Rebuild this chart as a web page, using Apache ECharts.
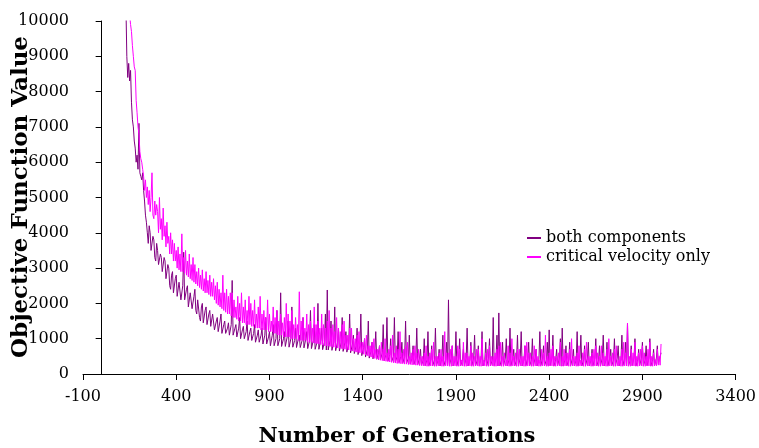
<!DOCTYPE html>
<html>
<head>
<meta charset="utf-8">
<script src="https://cdn.jsdelivr.net/npm/echarts@6/dist/echarts.min.js"></script>
<style>html,body{margin:0;padding:0;background:#fff}#c{width:759px;height:448px}</style>
</head>
<body>
<div id="c"></div>
<script>
// Generations sampled every 5 from 130 to 3000
const genStart = 130;
const genStep = 5;

const seriesNames = ['both components', 'critical velocity only'];

const bothComponents = [
  10500, 9000, 8400, 8800, 8300, 8600, 7700, 7200, 7000, 6600, 6400, 6000, 6200, 5800,
  7100, 5700, 5600, 5500, 5700, 5200, 4900, 4500, 4300, 4000, 3700, 4200, 4000, 3500, 3500, 3900, 3800, 3300, 3200, 3700,
  3500, 3100, 3100, 3400, 3300, 2900, 2900, 3300, 3200, 2700, 2700, 3100, 3000, 2500, 2400, 2800, 2900, 2300, 2300, 2700,
  2800, 2200, 2200, 2600, 2600, 2100, 2100, 2500, 3450, 2100, 2050, 2400, 2500, 1900, 1900, 2300, 2300, 1850, 1850, 2200,
  2400, 1800, 1700, 2100, 2100, 1600, 1500, 1900, 2000, 1450, 1450, 1800, 1900, 1400, 1400, 1700, 1800, 1350, 1300, 1700,
  1700, 1250, 1250, 1500, 1600, 1200, 1200, 1500, 1700, 1150, 1150, 1400, 1500, 1150, 1150, 1300, 1450, 1100, 1100, 1400,
  2650, 1100, 1100, 1300, 1400, 1050, 1050, 1300, 1600, 1000, 1000, 1250, 1350, 1000, 1000, 1200, 1500, 950, 950, 1200,
  1300, 950, 950, 1150, 1400, 900, 900, 1100, 1250, 900, 900, 1100, 1300, 850, 850, 1100, 1600, 850, 850, 1050,
  1200, 800, 800, 1100, 1400, 800, 800, 1000, 1800, 800, 800, 1000, 2300, 780, 780, 1000, 1200, 780, 780, 1050,
  1500, 760, 760, 1000, 1900, 760, 760, 950, 1300, 750, 750, 1000, 1100, 750, 750, 950, 1600, 740, 740, 1000,
  1200, 720, 720, 950, 1800, 720, 720, 950, 1400, 700, 700, 900, 2000, 700, 700, 950, 1300, 690, 690, 900,
  1700, 680, 2380, 680, 680, 950, 1500, 670, 670, 900, 1900, 660, 660, 900, 1300, 650, 650, 900, 1600, 640,
  640, 900, 1200, 620, 620, 850, 1700, 600, 600, 850, 1100, 580, 580, 800, 1300, 550, 550, 800, 1700, 520,
  520, 750, 1000, 480, 480, 700, 1500, 450, 450, 650, 900, 430, 430, 650, 1200, 420, 420, 600, 800, 400,
  400, 600, 1400, 380, 380, 550, 1600, 370, 370, 550, 1000, 350, 350, 500, 1600, 340, 340, 500, 1200, 330,
  330, 500, 900, 320, 320, 500, 1500, 300, 300, 450, 1100, 290, 290, 450, 800, 280, 280, 450, 1300, 270,
  260, 450, 700, 250, 250, 400, 1000, 240, 240, 400, 1200, 240, 240, 400, 800, 230, 230, 400, 1300, 240,
  240, 400, 700, 230, 230, 450, 1100, 240, 240, 400, 900, 240, 2100, 250, 250, 450, 800, 230, 230, 400,
  1200, 240, 240, 450, 1000, 230, 230, 400, 700, 240, 240, 450, 1300, 230, 230, 400, 900, 240, 240, 450,
  1100, 230, 230, 400, 800, 240, 240, 450, 1200, 230, 230, 400, 900, 240, 240, 450, 1000, 230, 230, 400,
  1600, 240, 240, 450, 1100, 230, 1730, 230, 230, 400, 900, 240, 240, 450, 1000, 230, 230, 400, 1300, 240,
  240, 450, 700, 230, 230, 400, 1100, 240, 240, 450, 1200, 230, 230, 400, 800, 240, 240, 450, 900, 230,
  230, 400, 1000, 240, 240, 450, 700, 230, 230, 400, 1200, 240, 240, 450, 800, 230, 230, 400, 900, 240,
  1250, 240, 240, 450, 1100, 230, 230, 400, 700, 240, 240, 450, 1000, 230, 1300, 230, 230, 400, 800, 240,
  230, 400, 900, 240, 240, 450, 700, 230, 230, 400, 1200, 240, 240, 450, 1100, 230, 230, 400, 800, 240,
  240, 450, 900, 230, 230, 400, 700, 240, 240, 450, 1000, 230, 230, 400, 800, 240, 240, 450, 1100, 230,
  230, 400, 900, 240, 240, 450, 700, 230, 230, 400, 1000, 240, 240, 450, 800, 230, 230, 400, 1100, 240,
  240, 450, 900, 230, 1440, 230, 230, 400, 800, 240, 240, 450, 1000, 230, 230, 400, 700, 240, 240, 450,
  900, 230, 230, 400, 800, 240, 240, 450, 1000, 230, 230, 400, 700, 240, 240, 450, 800, 300, 300, 500,
  600
];

const criticalVelocityOnly = [
  12000, 11500, 11000, 10500, 10200, 9900, 9700, 9300, 9000, 8700, 8600, 7750, 7400, 7000,
  6800, 6300, 6100, 6000, 5800, 5600, 5200, 5500, 5000, 5300, 4800, 5200, 4600, 5000, 5700, 4500, 4400, 4900, 4500, 4800,
  4600, 4000, 5000, 4100, 4400, 3800, 4700, 3900, 4200, 3600, 4300, 3700, 3900, 3400, 4000, 3400, 3800, 3200, 3700, 3200,
  3500, 3000, 3600, 2950, 3400, 2900, 3970, 2900, 3300, 2850, 3500, 2800, 3200, 2750, 3400, 2700, 3100, 2650, 3300, 2600,
  3100, 2550, 2900, 2500, 3000, 2450, 2800, 2400, 2950, 2350, 2700, 2300, 2900, 2300, 2650, 2250, 2800, 2200, 2600, 2200,
  2700, 2100, 2500, 2000, 2600, 1950, 2400, 1900, 2300, 1850, 2800, 1800, 2300, 1750, 2400, 1700, 2200, 1700, 2300, 1650,
  2300, 1600, 2100, 1600, 1900, 1550, 2200, 1500, 2000, 1500, 2300, 1450, 1900, 1450, 2100, 1400, 1800, 1400, 2200, 1400,
  2000, 1350, 1800, 1350, 2100, 1300, 1700, 1300, 1900, 1300, 2200, 1250, 1700, 1250, 1800, 1250, 1600, 1250, 2100, 1200,
  1700, 1200, 1500, 1200, 1900, 1150, 1600, 1150, 1800, 1100, 1500, 1100, 1700, 1100, 1450, 1050, 1600, 1050, 2000, 1050,
  1700, 1050, 1500, 1000, 1800, 1000, 1400, 1000, 1600, 1000, 1400, 950, 2330, 950, 1500, 950, 1600, 950, 1300, 950,
  1700, 900, 1400, 900, 1500, 900, 1300, 880, 1900, 870, 1400, 860, 1500, 850, 1300, 840, 1700, 820, 1400, 800,
  1300, 800, 1500, 790, 1800, 780, 1300, 770, 1400, 760, 1200, 750, 1600, 740, 1300, 730, 1200, 720, 1400, 710,
  1500, 700, 1100, 690, 1100, 680, 1300, 660, 1300, 650, 1000, 640, 1000, 620, 1100, 610, 1200, 600, 900, 590,
  900, 560, 1000, 540, 1100, 520, 800, 500, 800, 480, 900, 460, 1000, 440, 700, 420, 700, 400, 800, 390,
  900, 380, 700, 370, 1000, 360, 600, 350, 700, 340, 800, 330, 1100, 320, 600, 310, 800, 300, 700, 300,
  1200, 290, 600, 290, 700, 280, 800, 280, 900, 270, 500, 270, 600, 260, 700, 260, 800, 250, 600, 250,
  700, 240, 500, 240, 500, 230, 600, 230, 800, 220, 500, 220, 600, 230, 700, 230, 900, 220, 500, 220,
  500, 230, 600, 230, 700, 220, 500, 220, 1200, 230, 600, 230, 600, 220, 700, 220, 800, 230, 500, 230,
  500, 220, 800, 220, 700, 230, 400, 230, 900, 220, 600, 220, 600, 230, 500, 230, 800, 220, 600, 220,
  500, 230, 700, 230, 700, 220, 500, 220, 1000, 230, 400, 230, 600, 220, 700, 220, 800, 230, 500, 230,
  500, 220, 600, 220, 700, 230, 800, 230, 900, 220, 500, 220, 600, 230, 400, 230, 800, 220, 600, 220,
  1000, 230, 500, 230, 600, 220, 700, 220, 700, 230, 500, 230, 500, 220, 800, 220, 900, 230, 600, 230,
  600, 220, 500, 220, 800, 230, 700, 230, 500, 220, 400, 220, 700, 230, 600, 230, 1100, 220, 500, 220,
  600, 230, 700, 230, 800, 220, 500, 220, 500, 230, 600, 230, 900, 220, 500, 220, 700, 230, 600, 230,
  600, 220, 700, 220, 1000, 230, 500, 230, 500, 220, 600, 220, 800, 230, 400, 230, 600, 220, 700, 220,
  900, 230, 500, 230, 500, 220, 600, 220, 700, 230, 800, 230, 600, 220, 500, 220, 800, 230, 600, 230,
  500, 220, 700, 220, 1000, 230, 500, 230, 600, 220, 700, 220, 800, 230, 400, 230, 500, 220, 700, 220,
  900, 230, 600, 230, 1440, 220, 500, 220, 700, 230, 600, 230, 900, 220, 500, 220, 600, 230, 700, 230,
  800, 220, 600, 220, 500, 230, 700, 230, 900, 220, 500, 220, 600, 230, 400, 230, 700, 250, 500, 250,
  850
];

const xTicks = { min: -100, max: 3400, interval: 500 };
const yTicks = { min: 0, max: 10000, interval: 1000 };

function toPairs(vals) {
  return vals.map((v, i) => [genStart + i * genStep, v]);
}

const chart = echarts.init(document.getElementById('c'), null, { renderer: 'canvas' });
const serif = '"DejaVu Serif", serif';
chart.setOption({
  animation: false,
  backgroundColor: '#ffffff',
  grid: { left: 83, right: 18, top: 21, bottom: 74, containLabel: false },
  legend: {
    orient: 'vertical',
    left: 522,
    top: 225,
    itemWidth: 14,
    itemHeight: 2,
    itemGap: 3,
    icon: 'rect',
    textStyle: { fontFamily: serif, fontSize: 16, color: '#000', lineHeight: 15 },
    data: seriesNames
  },
  xAxis: {
    type: 'value',
    min: xTicks.min, max: xTicks.max, interval: xTicks.interval,
    axisLine: { onZero: true, lineStyle: { color: '#000', width: 1 } },
    axisTick: { show: true, length: 6, lineStyle: { color: '#000' } },
    axisLabel: { fontFamily: serif, fontSize: 16, color: '#000', margin: 15, formatter: v => String(v) },
    splitLine: { show: false }
  },
  yAxis: {
    type: 'value',
    min: yTicks.min, max: yTicks.max, interval: yTicks.interval,
    axisLine: { show: true, onZero: true, lineStyle: { color: '#000', width: 1 } },
    axisTick: { show: true, length: 6, lineStyle: { color: '#000' } },
    axisLabel: { fontFamily: serif, fontSize: 16, color: '#000', margin: 14, formatter: v => String(v) },
    splitLine: { show: false }
  },
  graphic: [
    {
      type: 'text',
      x: 397, y: 437,
      style: {
        text: 'Number of Generations',
        font: 'bold 21px "DejaVu Serif", serif',
        fill: '#000', textAlign: 'center', textVerticalAlign: 'middle'
      }
    },
    {
      type: 'text',
      x: 21, y: 197,
      rotation: Math.PI / 2,
      style: {
        text: 'Objective Function Value',
        font: 'bold 23px "DejaVu Serif", serif',
        fill: '#000', textAlign: 'center', textVerticalAlign: 'middle'
      }
    }
  ],
  series: [
    {
      name: seriesNames[0], type: 'line', showSymbol: false, symbol: 'none',
      lineStyle: { color: '#800080', width: 1 }, itemStyle: { color: '#800080' },
      data: toPairs(bothComponents), z: 2
    },
    {
      name: seriesNames[1], type: 'line', showSymbol: false, symbol: 'none',
      lineStyle: { color: '#FF00FF', width: 1 }, itemStyle: { color: '#FF00FF' },
      data: toPairs(criticalVelocityOnly), z: 3
    }
  ]
});
</script>
</body>
</html>
